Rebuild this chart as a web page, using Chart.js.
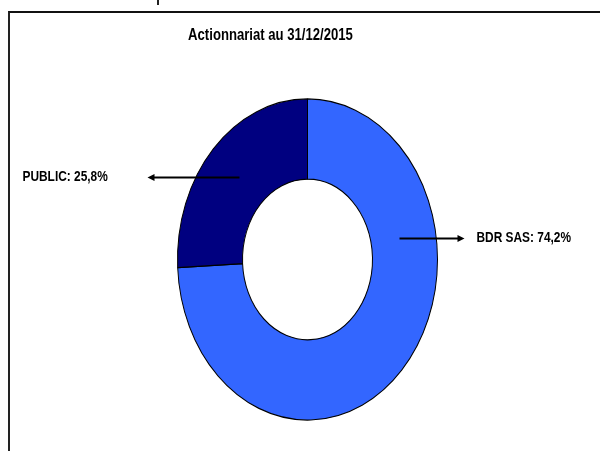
<!DOCTYPE html>
<html>
<head>
<meta charset="utf-8">
<script src="https://cdn.jsdelivr.net/npm/chart.js@4"></script>
<style>
    html, body { margin: 0; padding: 0; background: #fff; }
    #wrap { position: relative; width: 600px; height: 451px; overflow: hidden; }
    #frame {
        position: absolute; left: 8px; top: 11px; width: 600px; height: 450px;
        border-left: 2px solid #222; border-top: 2px solid #111;
    }
    /* bit of the page text above the chart, cut off */
    #stray { position: absolute; left: 157px; top: 0; width: 2px; height: 5px; background: #222; }
    #chart { position: absolute; left: 0; top: 0; }
</style>
</head>
<body>
<div id="wrap">
    <div id="frame"></div>
    <div id="stray"></div>
    <canvas id="chart" width="600" height="451"></canvas>
</div>
<script>
const chartTitle = "Actionnariat au 31/12/2015";
const shareholders = ["BDR SAS", "PUBLIC"];
const sharePercent = [74.2, 25.8];
const sliceColors = ["#3366FF", "#000080"];

// Excel draws this donut stretched vertically
const stretchY = 1.235;

function formatShare(label, value) {
    return `${label}: ${value.toFixed(1).replace(".", ",")}%`;
}

// no Arial Narrow here, so squeeze Liberation Sans horizontally
function fillNarrow(ctx, text, x, y, squeeze) {
    ctx.save();
    ctx.translate(x, y);
    ctx.scale(squeeze, 1);
    ctx.fillText(text, 0, 0);
    ctx.restore();
}

function drawArrow(ctx, x1, y, x2) {
    const dir = x2 > x1 ? 1 : -1;
    ctx.beginPath();
    ctx.moveTo(x1, y);
    ctx.lineTo(x2 - dir * 5, y);
    ctx.stroke();
    ctx.beginPath();
    ctx.moveTo(x2, y);
    ctx.lineTo(x2 - dir * 7, y - 3.5);
    ctx.lineTo(x2 - dir * 7, y + 3.5);
    ctx.closePath();
    ctx.fill();
}

const ellipsePlugin = {
    id: "ellipse",
    beforeDatasetsDraw(chart) {
        const arc = chart.getDatasetMeta(0).data[0];
        const ctx = chart.ctx;
        ctx.save();
        ctx.translate(arc.x, arc.y);
        ctx.scale(1, stretchY);
        ctx.translate(-arc.x, -arc.y);
    },
    afterDatasetsDraw(chart) {
        chart.ctx.restore();
    },
};

const calloutPlugin = {
    id: "callouts",
    afterDraw(chart) {
        const ctx = chart.ctx;
        const arc = chart.getDatasetMeta(0).data[0];
        const cx = arc.x;
        const cy = arc.y;
        ctx.save();
        ctx.fillStyle = "#000";
        ctx.strokeStyle = "#000";
        ctx.lineWidth = 2;

        // title
        ctx.font = "bold 16px 'Liberation Sans', Arial, sans-serif";
        ctx.textAlign = "center";
        ctx.textBaseline = "alphabetic";
        fillNarrow(ctx, chartTitle, cx - 37, 40, 0.82);

        // BDR SAS callout, arrow pointing right
        ctx.font = "bold 14px 'Liberation Sans', Arial, sans-serif";
        drawArrow(ctx, cx + 92, cy - 21, cx + 157);
        ctx.textAlign = "left";
        ctx.textBaseline = "middle";
        fillNarrow(ctx, formatShare(shareholders[0], sharePercent[0]), cx + 169, cy - 21, 0.85);

        // PUBLIC callout, arrow pointing left
        drawArrow(ctx, cx - 68, cy - 82, cx - 160);
        fillNarrow(ctx, formatShare(shareholders[1], sharePercent[1]), cx - 285, cy - 82, 0.85);
        ctx.restore();
    },
};

document.addEventListener("DOMContentLoaded", () => {
    const canvas = document.getElementById("chart");
    new Chart(canvas, {
        type: "doughnut",
        data: {
            labels: shareholders,
            datasets: [{
                data: sharePercent,
                backgroundColor: sliceColors,
                borderColor: "#000",
                borderWidth: 1,
                borderAlign: "center",
            }],
        },
        options: {
            responsive: false,
            animation: false,
            events: [],
            cutout: "50%",
            layout: {
                padding: { left: 177, right: 162, top: 129, bottom: 61 },
            },
            plugins: {
                legend: { display: false },
                tooltip: { enabled: false },
                title: { display: false },
            },
        },
        plugins: [ellipsePlugin, calloutPlugin],
    });
});
</script>
</body>
</html>
